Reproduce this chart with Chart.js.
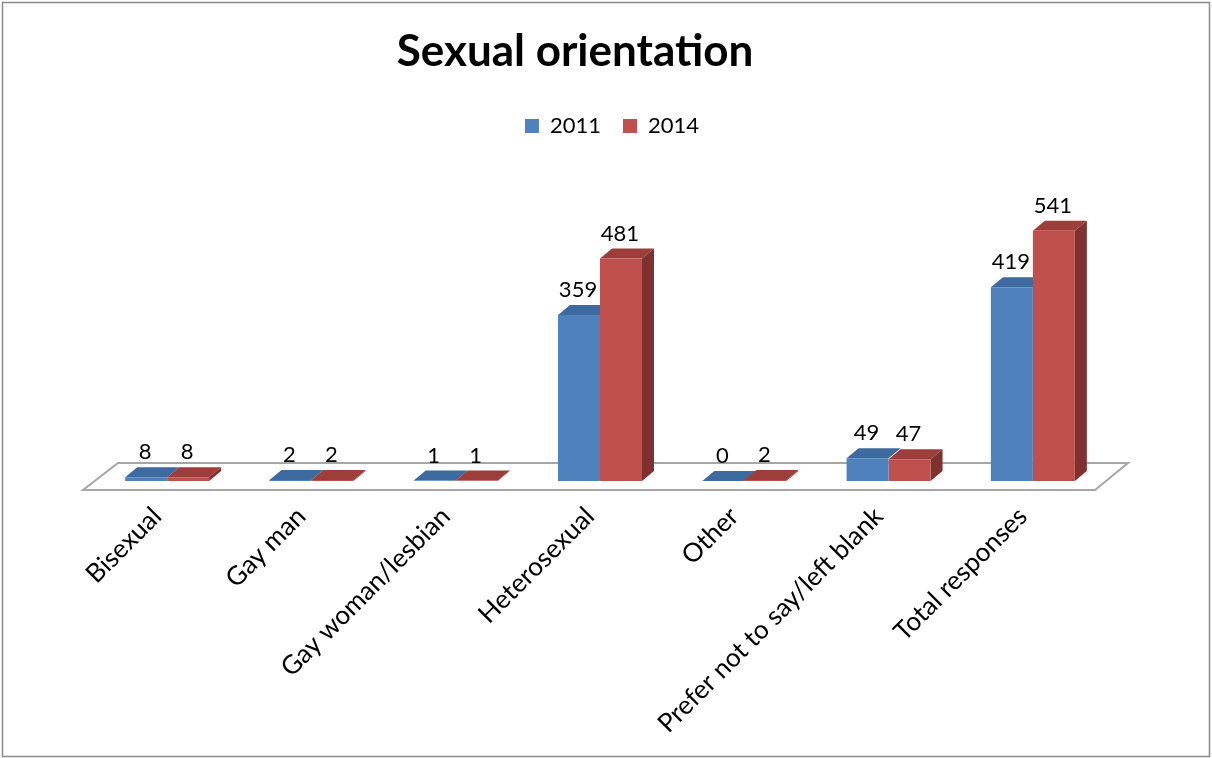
<!DOCTYPE html>
<html>
<head>
<meta charset="utf-8">
<script src="https://cdn.jsdelivr.net/npm/chart.js@4"></script>
<style>
    html, body { margin: 0; padding: 0; background: #fff; }
    #wrap { position: absolute; left: 0; top: 0; width: 1212px; height: 758px; }
</style>
</head>
<body>
<div id="wrap"><canvas id="bar_chart"></canvas></div>
<script>
const categories = ['Bisexual', 'Gay man', 'Gay woman/lesbian', 'Heterosexual', 'Other', 'Prefer not to say/left blank', 'Total responses']
const seriesNames = ['2011', '2014']
const values2011 = [8, 2, 1, 359, 0, 49, 419]
const values2014 = [8, 2, 1, 481, 2, 47, 541]

const frontColors = ['#4f81bd', '#c0504d']
const topColors = ['#3d6a9f', '#9e3e3b']
const sideColor = '#7e312f'
const fontName = 'Lato'

// fake excel-style 3d: depth of the bar tops/sides and of the floor
const depthX = 12
const depthY = 10

const chart3d = {
    id: 'chart3d',
    afterLayout(chart) {
        // excel puts title a bit left and legend a bit right of plot centre
        const t = chart.titleBlock
        t.left -= 25
        t.right -= 25
        const l = chart.legend
        l.left += 12
        l.right += 12
    },
    beforeDraw(chart) {
        const ctx = chart.ctx
        const a = chart.chartArea
        ctx.save()
        ctx.fillStyle = '#fff'
        ctx.fillRect(0, 0, chart.width, chart.height)
        ctx.strokeStyle = '#8a8a8a'
        ctx.lineWidth = 1.5
        ctx.strokeRect(2.5, 2.5, chart.width - 5, chart.height - 4)

        // floor
        ctx.strokeStyle = '#a6a6a6'
        ctx.lineWidth = 2
        ctx.beginPath()
        ctx.moveTo(a.left - 12, a.bottom + 9)
        ctx.lineTo(a.right - 10, a.bottom + 9)
        ctx.lineTo(a.right + 23, a.bottom - 18)
        ctx.lineTo(a.left + 23, a.bottom - 18)
        ctx.closePath()
        ctx.stroke()
        ctx.restore()
    },
    beforeDatasetsDraw(chart) {
        const ctx = chart.ctx
        const last = chart.data.datasets.length - 1
        ctx.save()
        categories.forEach((c, i) => {
            chart.data.datasets.forEach((ds, d) => {
                const bar = chart.getDatasetMeta(d).data[i]
                const {x, y, base, width} = bar.getProps(['x', 'y', 'base', 'width'], true)
                const xl = x - width / 2
                const xr = x + width / 2
                ctx.fillStyle = topColors[d]
                ctx.beginPath()
                ctx.moveTo(xl, y)
                ctx.lineTo(xl + depthX, y - depthY)
                ctx.lineTo(xr + depthX, y - depthY)
                ctx.lineTo(xr, y)
                ctx.closePath()
                ctx.fill()
                if (d === last) {
                    ctx.fillStyle = sideColor
                    ctx.beginPath()
                    ctx.moveTo(xr, y)
                    ctx.lineTo(xr + depthX, y - depthY)
                    ctx.lineTo(xr + depthX, base - depthY)
                    ctx.lineTo(xr, base)
                    ctx.closePath()
                    ctx.fill()
                }
            })
        })
        ctx.restore()
    },
    afterDatasetsDraw(chart) {
        const ctx = chart.ctx
        ctx.save()
        ctx.font = '22px ' + fontName
        ctx.fillStyle = '#000'
        ctx.textAlign = 'center'
        ctx.textBaseline = 'middle'
        chart.data.datasets.forEach((ds, d) => {
            chart.getDatasetMeta(d).data.forEach((bar, i) => {
                ctx.fillText(String(ds.data[i]), bar.x - 1, bar.y - 25)
            })
        })
        ctx.restore()
    }
}

function getChartJs() {
    return {
        type: 'bar',
        data: {
            labels: categories,
            datasets: [
                {
                    label: seriesNames[0],
                    data: values2011,
                    backgroundColor: frontColors[0],
                    borderWidth: 0,
                },
                {
                    label: seriesNames[1],
                    data: values2014,
                    backgroundColor: frontColors[1],
                    borderWidth: 0,
                },
            ],
        },
        options: {
            responsive: true,
            maintainAspectRatio: false,
            animation: false,
            layout: {
                padding: { left: 95, right: 107, top: 0, bottom: 0 },
            },
            datasets: {
                bar: { categoryPercentage: 0.582, barPercentage: 1 },
            },
            plugins: {
                title: {
                    display: true,
                    text: 'Sexual orientation',
                    color: '#000',
                    font: { family: fontName, size: 44, weight: 'bold', lineHeight: 1.2 },
                    padding: { top: 25, bottom: 15.2 },
                },
                legend: {
                    display: true,
                    position: 'top',
                    labels: {
                        color: '#000',
                        font: { family: fontName, size: 22 },
                        boxWidth: 14,
                        boxHeight: 14,
                        padding: 22,
                    },
                },
                tooltip: { enabled: false },
            },
            scales: {
                x: {
                    grid: { display: false, drawTicks: false },
                    border: { display: false },
                    ticks: {
                        color: '#000',
                        font: { family: fontName, size: 26 },
                        autoSkip: false,
                        minRotation: 45,
                        maxRotation: 45,
                        padding: 20,
                        labelOffset: -10,
                    },
                    // keep the baseline of the bars where excel has it
                    afterFit: (axis) => { axis.height = 277 },
                },
                y: {
                    display: false,
                    min: 0,
                    max: 722,
                },
            },
        },
        plugins: [chart3d],
    }
}

new Chart(document.getElementById('bar_chart'), getChartJs())
</script>
</body>
</html>
